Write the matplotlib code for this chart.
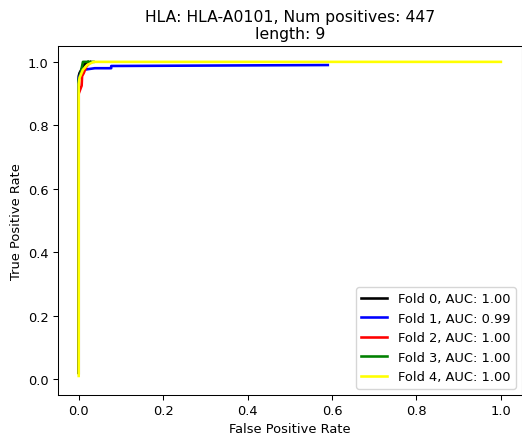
import numpy as np
import matplotlib
matplotlib.use("Agg")
import matplotlib.pyplot as plt

# ROC points per fold
fold_names = ["Fold 0", "Fold 1", "Fold 2", "Fold 3", "Fold 4"]
fold_auc = [1.00, 0.99, 1.00, 1.00, 1.00]
fold_colors = ["black", "blue", "red", "green", "yellow"]

fpr_0 = [0.0, 0.0, 0.002, 0.006, 0.012, 0.022]
tpr_0 = [0.02, 0.955, 0.965, 0.975, 0.99, 1.0]

fpr_1 = [0.0, 0.0, 0.005, 0.012, 0.038, 0.077, 0.077, 0.59]
tpr_1 = [0.02, 0.95, 0.965, 0.975, 0.98, 0.98, 0.987, 0.99]

fpr_2 = [0.0, 0.0, 0.007, 0.008, 0.012, 0.018, 0.028]
tpr_2 = [0.02, 0.90, 0.925, 0.955, 0.965, 0.985, 1.0]

fpr_3 = [0.0, 0.0, 0.004, 0.007, 0.01, 0.035]
tpr_3 = [0.02, 0.945, 0.96, 0.98, 1.0, 1.0]

fpr_4 = [0.0, 0.0, 0.002, 0.01, 0.02, 0.035, 1.0]
tpr_4 = [0.01, 0.93, 0.95, 0.975, 0.99, 1.0, 1.0]

fprs = [fpr_0, fpr_1, fpr_2, fpr_3, fpr_4]
tprs = [tpr_0, tpr_1, tpr_2, tpr_3, tpr_4]

# the reference looks like a default figure shrunk by ~0.935
k = 0.935
fs = 10 * k

fig = plt.figure(figsize=(5.22, 4.35), dpi=100)
ax = fig.add_axes([57.6 / 522, 39 / 435, 464.4 / 522, 349 / 435])

for name, auc, c, x, y in zip(fold_names, fold_auc, fold_colors, fprs, tprs):
    ax.plot(x, y, color=c, lw=2 * k, label=f"{name}, AUC: {auc:.2f}")

ax.set_xlim(-0.05, 1.05)
ax.set_ylim(-0.05, 1.05)
ax.set_xticks(np.arange(0, 1.01, 0.2))
ax.set_yticks(np.arange(0, 1.01, 0.2))
ax.tick_params(labelsize=fs, length=3.5 * k, pad=3.5 * k, width=0.8 * k)
for sp in ax.spines.values():
    sp.set_linewidth(0.8 * k)
ax.set_xlabel("False Positive Rate", fontsize=fs, labelpad=4 * k)
ax.set_ylabel("True Positive Rate", fontsize=fs, labelpad=4 * k)
ax.set_title("HLA: HLA-A0101, Num positives: 447\nlength: 9", fontsize=12 * k, pad=6 * k)
ax.legend(loc="lower right", fontsize=fs)

fig.savefig("out.png", dpi=100)
